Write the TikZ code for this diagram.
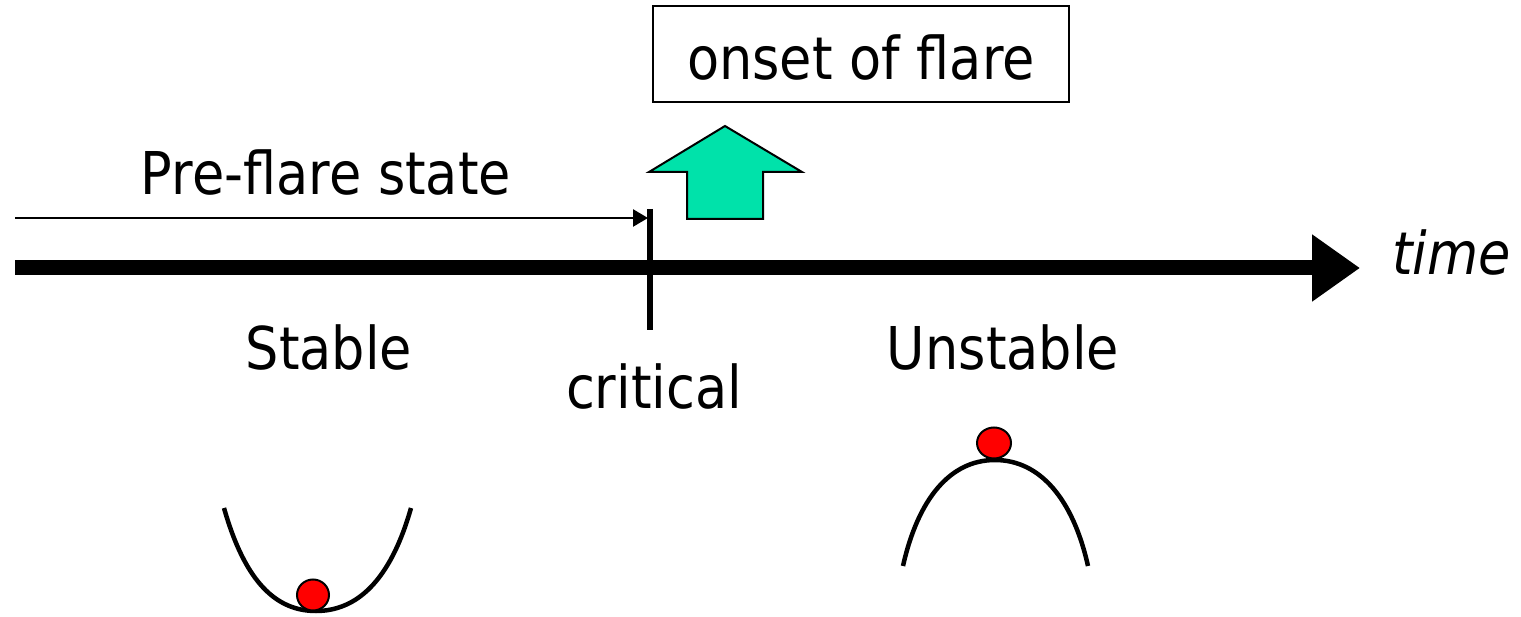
\documentclass[tikz,border=0pt]{standalone}
\usepackage{fontspec}
\setmainfont{DejaVu Sans}[FakeStretch=0.89]
\usetikzlibrary{arrows.meta}
\definecolor{flaregreen}{RGB}{0,226,170}
\definecolor{ballred}{RGB}{255,0,0}
\begin{document}
\begin{tikzpicture}[x=1pt,y=-1pt,
  lbl/.style={inner sep=0pt,anchor=base,font=\fontsize{59}{70}\selectfont},
  axisline/.style={line width=15pt,-{Triangle[length=48pt,width=64pt]}},
  stateline/.style={line width=2.5pt,-{Triangle[length=15pt,width=17pt]}},
  ticklineS/.style={line width=5.5pt},
  potential/.style={line width=4.5pt},
  ball/.style={fill=ballred,draw=black,line width=2pt},
  blockarrow/.style={fill=flaregreen,draw=black,line width=2pt,line join=miter}]
\useasboundingbox (0,0) rectangle (1521,617);

% time axis
\coordinate (tstart) at (15,268);
\coordinate (ttip) at (1360,268);
\draw[axisline] (tstart) -- (ttip);
\node[lbl,anchor=base west,font=\fontsize{59}{70}\selectfont\itshape] (time) at (1392,275) {time};

% critical instant
\coordinate (crittop) at (650,209);
\coordinate (critbot) at (650,330);
\draw[ticklineS] (crittop) -- (critbot);

% pre-flare interval
\coordinate (pstart) at (15,218);
\coordinate (pend) at (648,218);
\draw[stateline] (pstart) -- (pend);
\node[lbl] (pre) at (326,195) {Pre-flare state};

% onset of flare
\node[draw,line width=2pt,minimum width=416pt,minimum height=96pt,inner sep=0pt,
      text height=52pt,text depth=0pt,
      font=\fontsize{59}{70}\selectfont] (onset) at (861,54) {onset of flare};
\draw[blockarrow] (725,126) -- (802,172) -- (763,172) -- (763,219) -- (687,219)
  -- (687,172) -- (649,172) -- cycle;

% labels
\node[lbl] (stable) at (329,370) {Stable};
\node[lbl] (critical) at (654,409) {critical};
\node[lbl] (unstable) at (1003,370) {Unstable};

% stable well
\draw[potential] (224,508) .. controls (245,582) and (276,611) .. (316,611)
  .. controls (356,611) and (390,582) .. (411,508);
\draw[ball] (313,595) ellipse [x radius=16pt,y radius=15.5pt];

% unstable hill
\draw[potential] (903,566) .. controls (918,499) and (950,460) .. (995,460)
  .. controls (1040,460) and (1073,499) .. (1088,566);
\draw[ball] (994,443) ellipse [x radius=17pt,y radius=15.5pt];
\end{tikzpicture}
\end{document}
